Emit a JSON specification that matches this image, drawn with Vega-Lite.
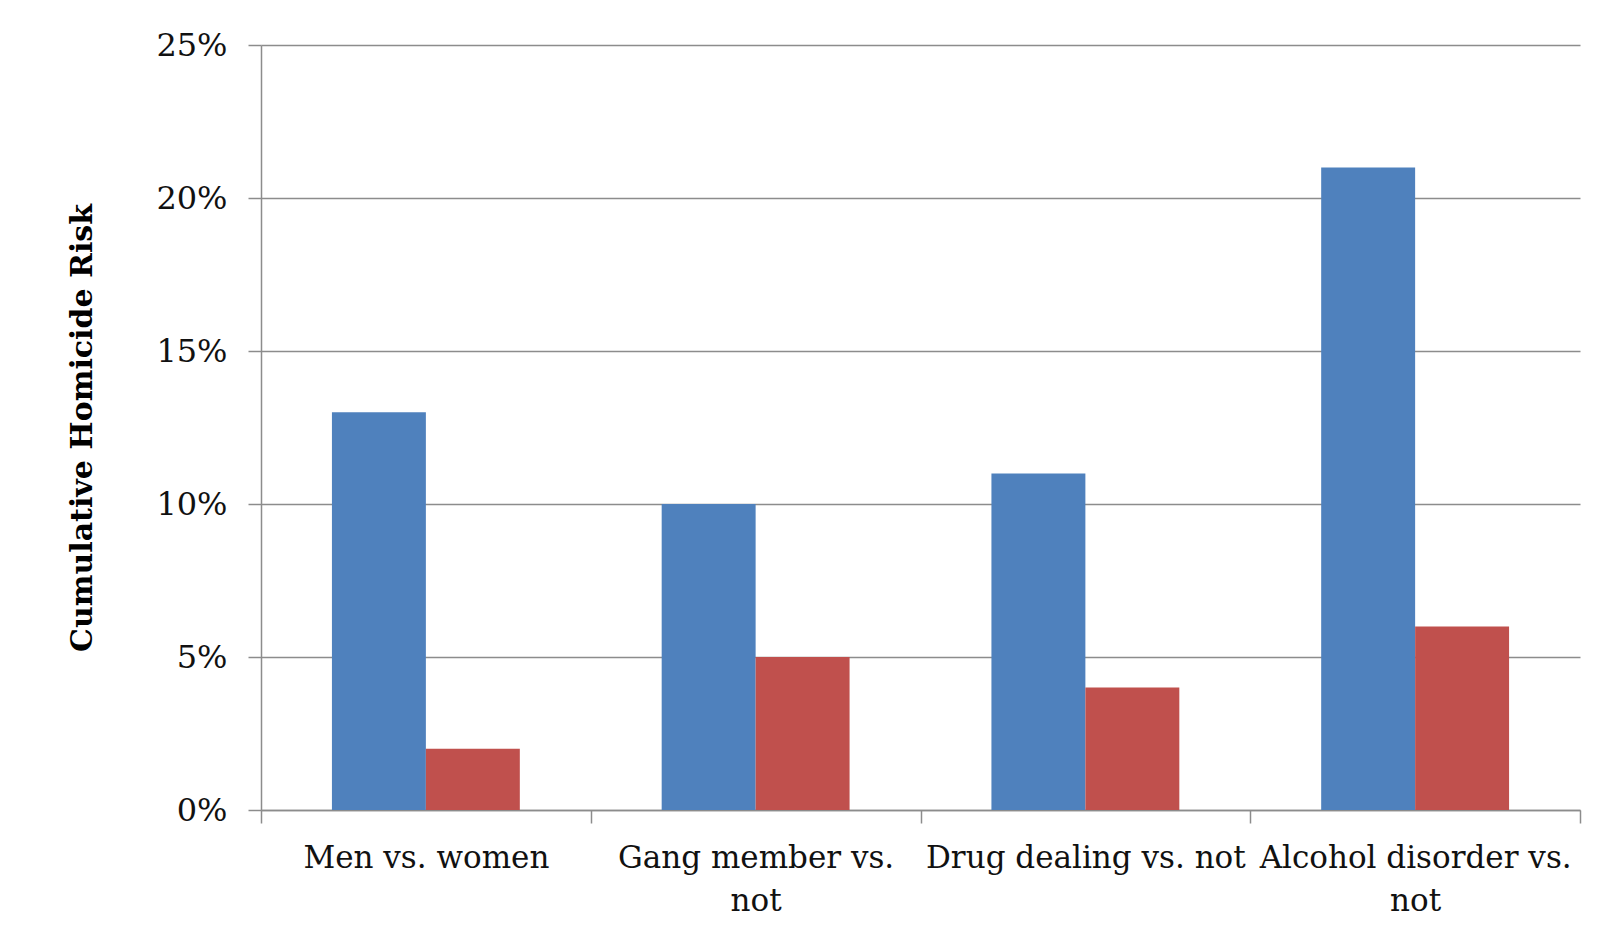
{
  "$schema": "https://vega.github.io/schema/vega-lite/v6.json",
  "autosize": "none",
  "width": 1319,
  "height": 765,
  "padding": {"left": 261, "top": 45, "right": 34, "bottom": 132},
  "background": "white",
  "data": {
    "values": [
      {"category": "Men vs. women", "group": "Risk group", "risk": 0.13},
      {"category": "Men vs. women", "group": "Comparison", "risk": 0.02},
      {"category": "Gang member vs. not", "group": "Risk group", "risk": 0.10},
      {"category": "Gang member vs. not", "group": "Comparison", "risk": 0.05},
      {"category": "Drug dealing vs. not", "group": "Risk group", "risk": 0.11},
      {"category": "Drug dealing vs. not", "group": "Comparison", "risk": 0.04},
      {"category": "Alcohol disorder vs. not", "group": "Risk group", "risk": 0.21},
      {"category": "Alcohol disorder vs. not", "group": "Comparison", "risk": 0.06}
    ]
  },
  "mark": {"type": "bar"},
  "encoding": {
    "x": {
      "field": "category",
      "type": "nominal",
      "sort": null,
      "scale": {"paddingInner": 0, "paddingOuter": 0},
      "axis": {
        "title": null,
        "labelAngle": 0,
        "tickBand": "extent",
        "grid": false,
        "domainColor": "#8c8c8c",
        "domainWidth": 1.5,
        "tickColor": "#8c8c8c",
        "tickSize": 13,
        "tickWidth": 1.5,
        "labelFont": "DejaVu Serif",
        "labelFontSize": 31,
        "labelColor": "#111111",
        "labelPadding": 20,
        "labelLineHeight": 43,
        "labelLimit": 0,
        "labelExpr": "datum.label == 'Gang member vs. not' ? ['Gang member vs.', 'not'] : datum.label == 'Alcohol disorder vs. not' ? ['Alcohol disorder vs.', 'not'] : datum.label"
      }
    },
    "xOffset": {
      "field": "group",
      "type": "nominal",
      "sort": ["Risk group", "Comparison"],
      "scale": {"paddingInner": 0, "paddingOuter": 0.755}
    },
    "y": {
      "field": "risk",
      "type": "quantitative",
      "scale": {"domain": [0, 0.25]},
      "axis": {
        "title": "Cumulative Homicide Risk",
        "titleFont": "DejaVu Serif",
        "titleFontSize": 30,
        "titleFontWeight": "bold",
        "titleColor": "#000000",
        "titlePadding": 58,
        "format": ".0%",
        "values": [0, 0.05, 0.10, 0.15, 0.20, 0.25],
        "labelFont": "DejaVu Serif",
        "labelFontSize": 32,
        "labelColor": "#111111",
        "labelPadding": 21,
        "tickSize": 13,
        "tickColor": "#8c8c8c",
        "tickWidth": 1.5,
        "domainColor": "#8c8c8c",
        "domainWidth": 1.5,
        "grid": true,
        "gridColor": "#8c8c8c",
        "gridWidth": 1.5
      }
    },
    "color": {
      "field": "group",
      "type": "nominal",
      "scale": {"domain": ["Risk group", "Comparison"], "range": ["#4F81BD", "#C0504D"]},
      "legend": null
    }
  },
  "config": {
    "view": {"stroke": null}
  }
}
